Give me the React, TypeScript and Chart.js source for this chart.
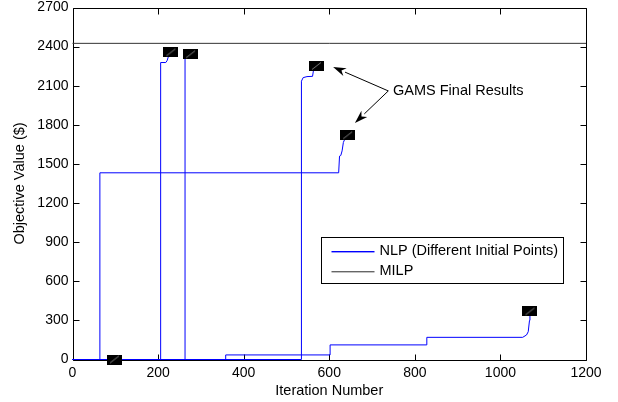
import React, { useEffect, useRef } from 'react';
import { Chart, registerables } from 'chart.js';

Chart.register(...registerables);

const FONT = '"Liberation Sans", Arial, Helvetica, sans-serif';

// ---- data ----
const xTickValues = [0, 200, 400, 600, 800, 1000, 1200];
const yTickValues = [0, 300, 600, 900, 1200, 1500, 1800, 2100, 2400, 2700];

// NLP runs (iteration number, objective value)
const nlp1X = [0, 98];
const nlp1Y = [0, 0];
const nlp2X = [0, 64, 64, 622, 624, 627, 630, 633, 636, 643];
const nlp2Y = [0, 0, 1432, 1432, 1560, 1565, 1600, 1665, 1688, 1720];
const nlp3X = [0, 206, 206, 218, 221, 224, 230];
const nlp3Y = [0, 0, 2278, 2278, 2292, 2322, 2356];
const nlp4X = [0, 263, 263, 276];
const nlp4Y = [0, 0, 2341, 2341];
const nlp5X = [0, 534, 534, 536, 539, 548, 561, 563, 570];
const nlp5Y = [0, 0, 2110, 2135, 2162, 2170, 2172, 2215, 2251];
const nlp6X = [0, 358, 358, 602, 602, 828, 828, 1052, 1061, 1065, 1068, 1069];
const nlp6Y = [0, 0, 35, 35, 112, 112, 170, 170, 188, 213, 300, 369];

const milpX = [0, 1200];
const milpY = [2425, 2425];

const legendLabels = ['NLP (Different Initial Points)', 'MILP'];
const annotationText = 'GAMS Final Results';
// annotation anchors in data coordinates
const annotationTail = { x: 738, y: 2060 };
const annotationTips = [
  { x: 609, y: 2244 },
  { x: 660, y: 1815 },
];
const annotationTextAt = { x: 749, y: 2060 };

const NLP_COLOR = '#0000ff';
const MILP_COLOR = '#333333';

const zip = (xs: number[], ys: number[]) => xs.map((x, i) => ({ x, y: ys[i] }));

export default function App() {
  const ref = useRef<HTMLCanvasElement | null>(null);

  useEffect(() => {
    const canvas = ref.current;
    if (!canvas) return;

    // marker image (filled black box)
    const marker = document.createElement('canvas');
    marker.width = 15;
    marker.height = 10;
    const mc = marker.getContext('2d')!;
    mc.fillStyle = '#000';
    mc.fillRect(0, 0, 15, 10);
    mc.strokeStyle = 'rgba(170,170,170,0.9)';
    mc.lineWidth = 0.8;
    mc.beginPath();
    mc.moveTo(3, 8.5);
    mc.lineTo(12, 1.5);
    mc.stroke();

    const runs = [
      zip(nlp1X, nlp1Y),
      zip(nlp2X, nlp2Y),
      zip(nlp3X, nlp3Y),
      zip(nlp4X, nlp4Y),
      zip(nlp5X, nlp5Y),
      zip(nlp6X, nlp6Y),
    ];
    const finals = runs.map((r) => r[r.length - 1]);

    const datasets: any[] = [
      {
        label: 'GAMS',
        data: finals,
        showLine: false,
        pointStyle: marker,
        pointRadius: 5,
        clip: false,
      },
      {
        label: 'MILP',
        data: zip(milpX, milpY),
        showLine: true,
        borderColor: MILP_COLOR,
        borderWidth: 1,
        pointRadius: 0,
        clip: false,
      },
      ...runs.map((r, i) => ({
        label: i === 0 ? 'NLP' : 'NLP' + i,
        data: r,
        showLine: true,
        borderColor: NLP_COLOR,
        borderWidth: 1,
        pointRadius: 0,
        tension: 0,
        clip: false,
      })),
    ];

    const boxPlugin = {
      id: 'matlabBox',
      beforeDatasetsDraw(chart: any) {
        const { ctx, chartArea: a, scales } = chart;
        ctx.save();
        ctx.strokeStyle = '#000';
        ctx.lineWidth = 1;
        const L = Math.round(a.left) + 0.5;
        const R = Math.round(a.right) + 0.5;
        const T = Math.round(a.top) + 0.5;
        const B = Math.round(a.bottom) + 0.5;
        ctx.beginPath();
        ctx.rect(L, T, R - L, B - T);
        ctx.stroke();
        const tl = 6;
        ctx.beginPath();
        scales.x.ticks.forEach((t: any) => {
          const px = Math.round(scales.x.getPixelForValue(t.value)) + 0.5;
          ctx.moveTo(px, B);
          ctx.lineTo(px, B - tl);
          ctx.moveTo(px, T);
          ctx.lineTo(px, T + tl);
        });
        scales.y.ticks.forEach((t: any) => {
          const py = Math.round(scales.y.getPixelForValue(t.value)) + 0.5;
          ctx.moveTo(L, py);
          ctx.lineTo(L + tl, py);
          ctx.moveTo(R, py);
          ctx.lineTo(R - tl, py);
        });
        ctx.stroke();
        ctx.restore();
      },
      afterDatasetsDraw(chart: any) {
        const { ctx, chartArea: a, scales } = chart;
        ctx.save();
        // legend
        const lx = Math.round(a.left + 248) + 0.5;
        const ly = Math.round(a.top + 229) + 0.5;
        const lw = 242;
        const lh = 46;
        ctx.fillStyle = '#fff';
        ctx.fillRect(lx, ly, lw, lh);
        ctx.strokeStyle = '#000';
        ctx.lineWidth = 1;
        ctx.strokeRect(lx, ly, lw, lh);
        ctx.font = '14.5px ' + FONT;
        ctx.textBaseline = 'middle';
        ctx.textAlign = 'left';
        const rows = [
          { text: legendLabels[0], color: NLP_COLOR, dy: 13 },
          { text: legendLabels[1], color: '#666666', dy: 33 },
        ];
        rows.forEach((r) => {
          const yy = Math.round(ly + r.dy);
          ctx.fillStyle = r.color;
          ctx.fillRect(lx + 10, yy, 43, 1.4);
          ctx.fillStyle = '#000';
          ctx.fillText(r.text, lx + 58, ly + r.dy + 0.5);
        });

        // annotation
        const sx = (v: number) => scales.x.getPixelForValue(v);
        const sy = (v: number) => scales.y.getPixelForValue(v);
        const tx = sx(annotationTail.x);
        const ty = sy(annotationTail.y);
        ctx.strokeStyle = '#000';
        ctx.fillStyle = '#000';
        ctx.lineWidth = 1;
        annotationTips.forEach((tip) => {
          const px = sx(tip.x);
          const py = sy(tip.y);
          const ang = Math.atan2(py - ty, px - tx);
          const len = 13;
          const hw = 4.2;
          const bx = px - len * Math.cos(ang);
          const by = py - len * Math.sin(ang);
          ctx.beginPath();
          ctx.moveTo(tx, ty);
          ctx.lineTo(bx, by);
          ctx.stroke();
          ctx.beginPath();
          ctx.moveTo(px, py);
          ctx.lineTo(bx + hw * Math.sin(ang), by - hw * Math.cos(ang));
          ctx.lineTo(px - len * 0.7 * Math.cos(ang), py - len * 0.7 * Math.sin(ang));
          ctx.lineTo(bx - hw * Math.sin(ang), by + hw * Math.cos(ang));
          ctx.closePath();
          ctx.fill();
        });
        ctx.font = '14.5px ' + FONT;
        ctx.textAlign = 'left';
        ctx.textBaseline = 'middle';
        ctx.fillText(annotationText, sx(annotationTextAt.x), sy(annotationTextAt.y));
        ctx.restore();
      },
    };

    const chart = new Chart(canvas, {
      type: 'scatter',
      data: { datasets },
      plugins: [boxPlugin],
      options: {
        animation: false,
        responsive: false,
        devicePixelRatio: 1,
        layout: { padding: { top: 7.5, right: 32, left: 0, bottom: 0 } },
        plugins: {
          legend: { display: false },
          tooltip: { enabled: false },
        },
        scales: {
          x: {
            type: 'linear',
            min: 0,
            max: 1200,
            afterBuildTicks: (s: any) => {
              s.ticks = xTickValues.map((v) => ({ value: v }));
            },
            ticks: {
              color: '#000',
              font: { family: FONT, size: 14 },
              padding: 5,
              maxRotation: 0,
              autoSkip: false,
              callback: (v: any) => String(v),
            },
            grid: { display: false, drawTicks: false },
            border: { display: false },
            title: {
              display: true,
              text: 'Iteration Number',
              color: '#000',
              font: { family: FONT, size: 14.5 },
              padding: { top: 0, bottom: 2 },
            },
            afterFit: (s: any) => {
              s.height = 42.5;
              s.paddingLeft = 0;
              s.paddingRight = 0;
            },
          },
          y: {
            type: 'linear',
            min: 0,
            max: 2700,
            afterBuildTicks: (s: any) => {
              s.ticks = yTickValues.map((v) => ({ value: v }));
            },
            ticks: {
              color: '#000',
              font: { family: FONT, size: 14 },
              padding: 4,
              autoSkip: false,
              callback: (v: any) => String(v),
            },
            grid: { display: false, drawTicks: false },
            border: { display: false },
            title: {
              display: true,
              text: 'Objective Value ($)',
              color: '#000',
              font: { family: FONT, size: 14.5 },
              padding: { top: 11, bottom: 0 },
            },
            afterFit: (s: any) => {
              s.width = 72.5;
              s.paddingTop = 0;
              s.paddingBottom = 0;
            },
          },
        },
      } as any,
    });

    return () => chart.destroy();
  }, []);

  return (
    <div style={{ position: 'absolute', left: 0, top: 0, width: 618, height: 402 }}>
      <canvas ref={ref} width={618} height={402} style={{ display: 'block', width: 618, height: 402 }} />
    </div>
  );
}
